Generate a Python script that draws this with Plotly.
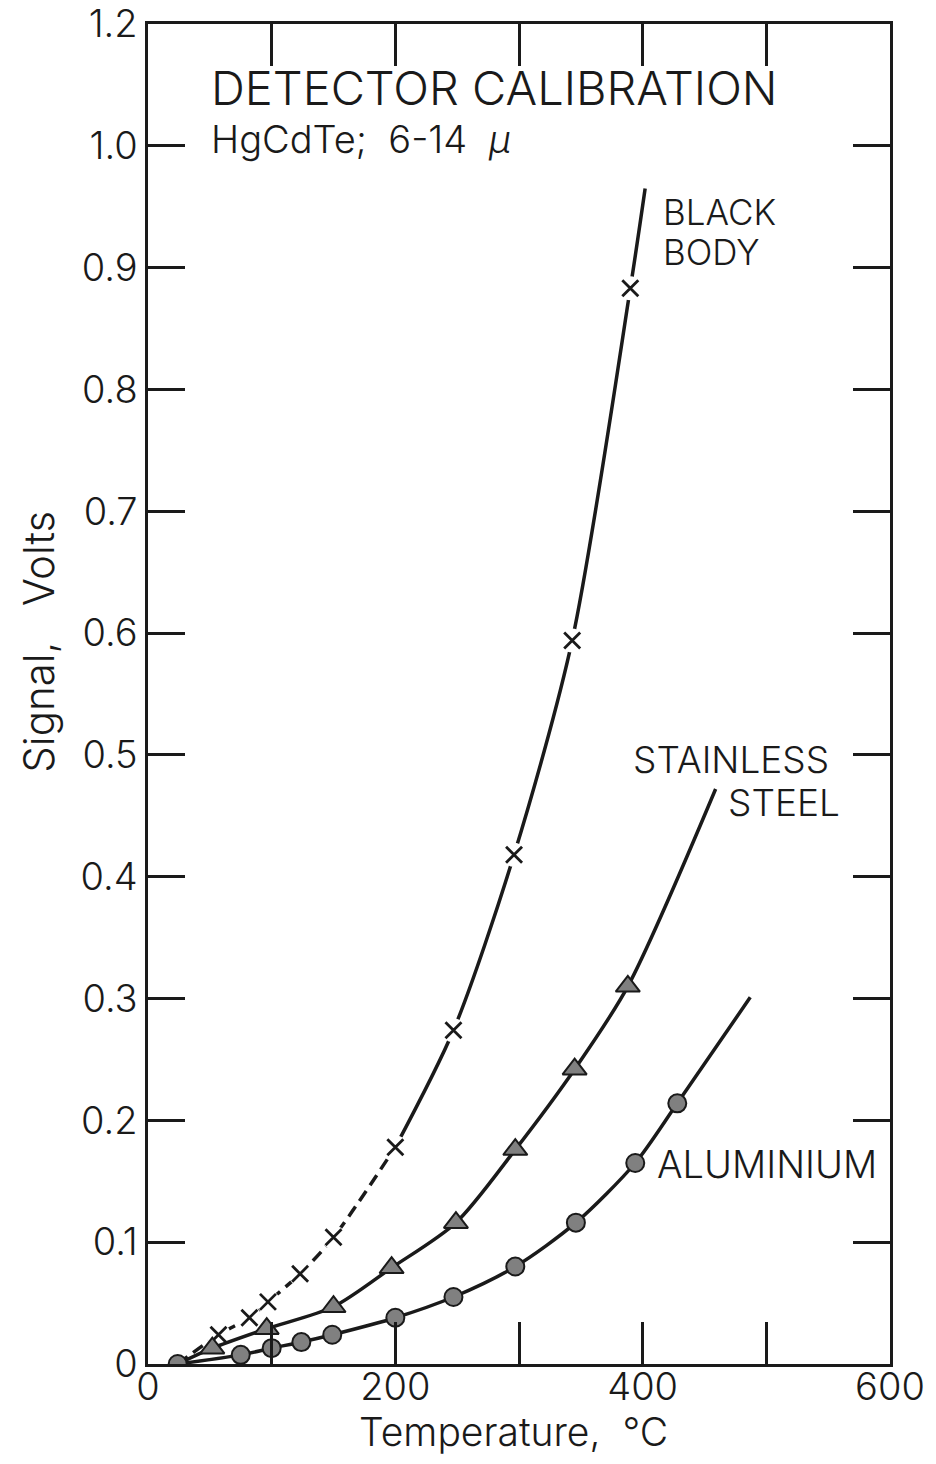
import plotly.graph_objects as go

# ---- data ----
# Black body (X markers)
bb_x = [57, 82, 97, 123, 150, 200, 247, 296, 343, 390]
bb_y = [0.024, 0.038, 0.051, 0.074, 0.104, 0.178, 0.274, 0.418, 0.594, 0.883]
# hand-drawn curve through black body points (dashed part, then solid part)
bb_dash_x = [24, 57, 82, 97, 123, 150, 200]
bb_dash_y = [0.0, 0.024, 0.038, 0.051, 0.074, 0.104, 0.178]
bb_solid_x = [200, 247, 296, 343, 390, 402]
bb_solid_y = [0.178, 0.274, 0.418, 0.594, 0.883, 0.965]

# Stainless steel (triangles)
ss_x = [52, 96, 150, 197, 249, 297, 345, 388]
ss_y = [0.013, 0.029, 0.047, 0.079, 0.116, 0.176, 0.242, 0.310]
ss_line_x = [24, 52, 96, 150, 197, 249, 297, 345, 388, 459]
ss_line_y = [0.0, 0.013, 0.029, 0.047, 0.079, 0.116, 0.176, 0.242, 0.310, 0.472]

# Aluminium (circles)
al_x = [24, 75, 100, 124, 149, 200, 247, 297, 346, 394, 428]
al_y = [0.0, 0.0075, 0.013, 0.018, 0.024, 0.038, 0.055, 0.080, 0.116, 0.165, 0.214]
al_line_x = [24, 75, 100, 124, 149, 200, 247, 297, 346, 394, 428, 487]
al_line_y = [0.0, 0.0075, 0.013, 0.018, 0.024, 0.038, 0.055, 0.080, 0.116, 0.165, 0.214, 0.301]

x_ticks = [0, 100, 200, 300, 400, 500, 600]
x_tick_text = ["0", "", "200", "", "400", "", "600"]
y_ticks = [0, 0.1, 0.2, 0.3, 0.4, 0.5, 0.6, 0.7, 0.8, 0.9, 1.0, 1.1]
y_tick_text = ["0", "0.1", "0.2", "0.3", "0.4", "0.5", "0.6", "0.7", "0.8", "0.9", "1.0", "1.2"]

FONT = "Inter"
INK = "#1a1a1a"
GREY = "#808080"

fig = go.Figure()

# black body curve
fig.add_trace(go.Scatter(x=bb_dash_x, y=bb_dash_y, mode="lines",
                         line=dict(color=INK, width=3.5, dash="12px,7px", shape="spline", smoothing=0.8),
                         hoverinfo="skip", showlegend=False))
fig.add_trace(go.Scatter(x=bb_solid_x, y=bb_solid_y, mode="lines",
                         line=dict(color=INK, width=3.5, shape="spline", smoothing=0.8),
                         hoverinfo="skip", showlegend=False))
# white gaps around the X markers
fig.add_trace(go.Scatter(x=bb_x, y=bb_y, mode="markers",
                         marker=dict(symbol="circle", size=24, color="white", line=dict(width=0)),
                         hoverinfo="skip", showlegend=False))
fig.add_trace(go.Scatter(x=bb_x, y=bb_y, mode="markers", name="Black body",
                         marker=dict(symbol="x-thin-open", size=16, color=INK,
                                     line=dict(color=INK, width=2.8)),
                         showlegend=False))

# stainless steel
fig.add_trace(go.Scatter(x=ss_line_x, y=ss_line_y, mode="lines",
                         line=dict(color=INK, width=3.5, shape="spline", smoothing=0.8),
                         hoverinfo="skip", showlegend=False))
fig.add_trace(go.Scatter(x=ss_x, y=ss_y, mode="markers", name="Stainless steel",
                         marker=dict(symbol="triangle-up", size=21, color=GREY,
                                     line=dict(color=INK, width=2)),
                         showlegend=False))

# aluminium
fig.add_trace(go.Scatter(x=al_line_x, y=al_line_y, mode="lines",
                         line=dict(color=INK, width=3.5, shape="spline", smoothing=0.8),
                         hoverinfo="skip", showlegend=False))
fig.add_trace(go.Scatter(x=al_x, y=al_y, mode="markers", name="Aluminium",
                         marker=dict(symbol="circle", size=18, color=GREY,
                                     line=dict(color=INK, width=2)),
                         showlegend=False))

axis_common = dict(showgrid=False, zeroline=False, showline=True, linecolor=INK, linewidth=2.5,
                   mirror="allticks", ticks="inside", tickcolor=INK, tickwidth=2.5,
                   ticklabeloverflow="allow", automargin=False)

fig.update_xaxes(range=[0, 600], tickvals=x_ticks, ticktext=x_tick_text, ticklen=42,
                 ticklabelstandoff=-12,
                 tickfont=dict(family=FONT, size=38, color=INK, weight=300), **axis_common)
fig.update_yaxes(range=[0, 1.1], tickvals=y_ticks, ticktext=y_tick_text, ticklen=37,
                 tickfont=dict(family=FONT, size=38, color=INK, weight=300), **axis_common)

annots = [
    dict(text="DETECTOR CALIBRATION", x=50, y=1.048, size=47),
    dict(text="HgCdTe;  6-14  <i>μ</i>", x=50, y=1.006, size=38),
    dict(text="BLACK", x=416, y=0.946, size=35),
    dict(text="BODY", x=416, y=0.913, size=35),
    dict(text="STAINLESS", x=391, y=0.496, size=37),
    dict(text="STEEL", x=468, y=0.461, size=37),
    dict(text="ALUMINIUM", x=411, y=0.164, size=38),
]
for a in annots:
    fig.add_annotation(text=a["text"], x=a["x"], y=a["y"], xref="x", yref="y",
                       xanchor="left", yanchor="middle", showarrow=False, align="left",
                       borderpad=0,
                       font=dict(family=FONT, size=a["size"], color=INK, weight=300))

fig.add_annotation(text="Temperature,\u00a0\u00a0°C", x=0.493, y=-0.050, xref="paper", yref="paper",
                   xanchor="center", yanchor="middle", showarrow=False,
                   font=dict(family=FONT, size=39, color=INK, weight=300))
fig.add_annotation(text="Signal,\u00a0\u00a0\u00a0Volts", x=-0.147, y=0.539, xref="paper", yref="paper",
                   xanchor="center", yanchor="middle", showarrow=False, textangle=-90,
                   font=dict(family=FONT, size=42, color=INK, weight=300))

# page body has an 8px margin, so the figure is 16px smaller than the window
fig.update_layout(width=920, height=1448, margin=dict(l=140, r=38, t=16, b=92, autoexpand=False),
                  plot_bgcolor="white", paper_bgcolor="white", showlegend=False)

fig.write_html("out.html")
